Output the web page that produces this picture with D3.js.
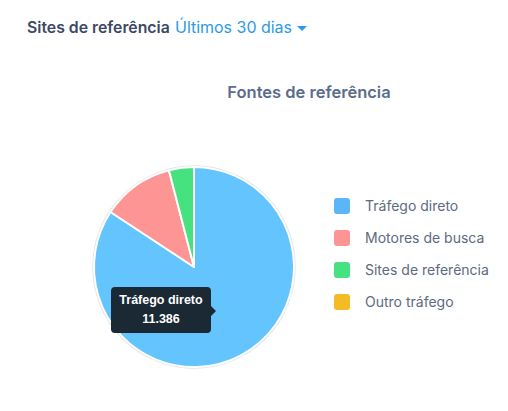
<!DOCTYPE html>
<html>
<head>
<meta charset="utf-8">
<script src="https://cdn.jsdelivr.net/npm/d3@7"></script>
<style>
  body { margin: 0; background: #fff; }
  svg { display: block; font-family: Inter, "Open Sans", sans-serif; }
</style>
</head>
<body>
<svg id="vis-pane" width="508" height="411"></svg>
<script>
// values
var categories = ["Tráfego direto", "Motores de busca", "Sites de referência", "Outro tráfego"];
var visits = [11386, 1580, 545, 0];
var colors = ["#64c5fe", "#fe9595", "#45e27f", "#f5bc25"];
var legendColors = ["#5ab6f6", "#fe9494", "#45e27f", "#f4bb24"];

var svg = d3.select("#vis-pane");

// header
svg.append("text").attr("x", 27).attr("y", 33).attr("font-size", 15.8)
    .attr("fill", "#3b4966").attr("font-weight", 600).text("Sites de referência");
svg.append("text").attr("x", 175).attr("y", 33).attr("font-size", 16)
    .attr("fill", "#2b9ae8").attr("textLength", 117).attr("lengthAdjust", "spacing")
    .text("Últimos 30 dias");
svg.append("path").attr("d", "M297,26 L307,26 L302,31 Z").attr("fill", "#2b9ae8");

svg.append("text")
    .attr("x", 309).attr("y", 98)
    .attr("text-anchor", "middle")
    .attr("font-size", 16.5).attr("font-weight", 600)
    .attr("fill", "#5a6d8c")
    .text("Fontes de referência");

// pie
var cx = 194, cy = 267, radius = 100;
var pie = d3.pie().sort(null).value(function(d){ return d; });
var arc = d3.arc().innerRadius(0).outerRadius(radius);
var arcs = pie(visits);

var g = svg.append("g").attr("transform", "translate(" + cx + "," + cy + ")");
g.append("circle").attr("r", radius + 0.5).attr("fill", "none").attr("stroke", "#e2e2e2").attr("stroke-width", 2.5);
g.selectAll("path.slice")
    .data(arcs.filter(function(d){ return d.value > 0; }))
    .enter().append("path")
    .attr("class", "slice")
    .attr("d", arc)
    .attr("fill", function(d){ return colors[d.index]; })
    .attr("stroke", "#fff")
    .attr("stroke-width", 2)
    .attr("stroke-linejoin", "round");

// tooltip for the first slice
var tip = svg.append("g").attr("transform", "translate(111,287)");
tip.append("path")
    .attr("d", "M4,0 H96 Q100,0 100,4 V19 L105,24 L100,29 V42 Q100,46 96,46 H4 Q0,46 0,42 V4 Q0,0 4,0 Z")
    .attr("fill", "#1b2935");
tip.append("text").attr("x", 50).attr("y", 17).attr("text-anchor", "middle")
    .attr("font-family", "'Liberation Sans', Arial, sans-serif").attr("font-size", 12.5).attr("font-weight", "bold")
    .attr("fill", "#fff").text(categories[0]);
tip.append("text").attr("x", 50).attr("y", 36).attr("text-anchor", "middle")
    .attr("font-family", "'Liberation Sans', Arial, sans-serif").attr("font-size", 12.5).attr("font-weight", "bold")
    .attr("fill", "#fff").text(d3.format(",")(visits[0]).replace(/,/g, "."));

// legend
var legend = svg.selectAll("g.legend")
    .data(categories)
    .enter().append("g")
    .attr("class", "legend")
    .attr("transform", function(d, i){ return "translate(334," + (206 + i * 32) + ")"; });
legend.append("rect")
    .attr("x", 0).attr("y", -8).attr("width", 16).attr("height", 16).attr("rx", 3)
    .attr("fill", function(d, i){ return legendColors[i]; });
legend.append("text")
    .attr("x", 31).attr("y", 5)
    .attr("font-size", 14).attr("fill", "#5d6a80")
    .text(function(d){ return d; });
</script>
</body>
</html>
